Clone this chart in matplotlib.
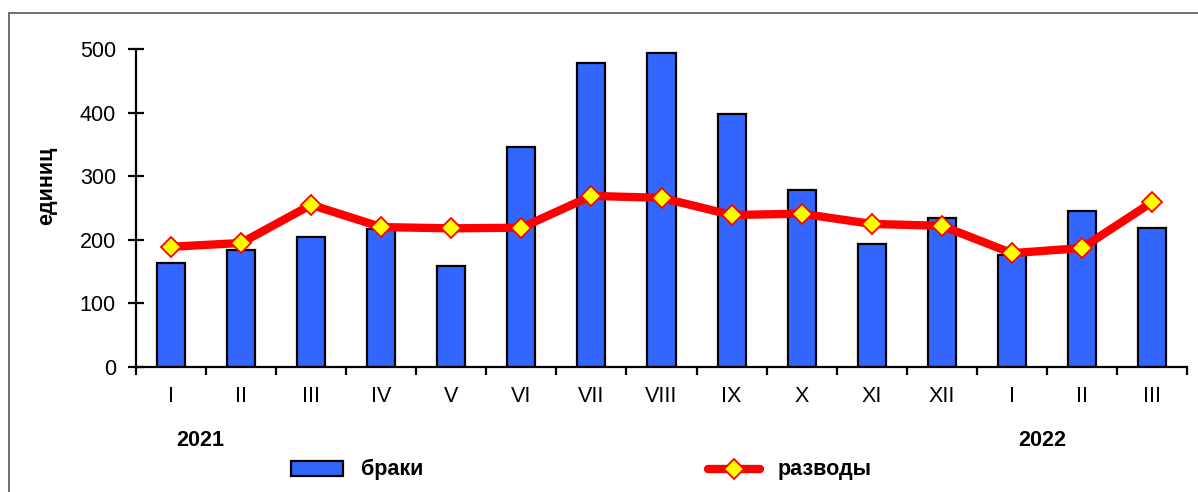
import matplotlib
matplotlib.use("Agg")
import matplotlib.pyplot as plt
from matplotlib.patches import Rectangle
from matplotlib.lines import Line2D
import numpy as np

plt.rcParams['font.family'] = ['Liberation Sans', 'DejaVu Sans']

months = ['I', 'II', 'III', 'IV', 'V', 'VI', 'VII', 'VIII', 'IX', 'X', 'XI', 'XII', 'I', 'II', 'III']
marriages = [163, 184, 204, 217, 159, 346, 478, 494, 398, 278, 193, 234, 176, 245, 218]
divorces = [189, 195, 255, 220, 218, 219, 269, 266, 239, 241, 225, 222, 179, 187, 259]
years = ['2021', '2022']

W, H = 1198, 492
FS = 15.5
fig = plt.figure(figsize=(W / 100, H / 100), dpi=100)
ax = fig.add_axes([136 / W, 1 - 367 / H, (1187 - 136) / W, (367 - 49) / H])

x = np.arange(len(months))
ax.bar(x, marriages, width=0.4, color='#3366FF', edgecolor='black', linewidth=1.6, zorder=2)
ax.plot(x, divorces, color='#FF0000', linewidth=6, marker='D', markersize=10,
        markerfacecolor='#FFFF00', markeredgecolor='#FF0000', markeredgewidth=1.3, zorder=3)

ax.set_xlim(-0.5, len(months) - 0.5)
ax.set_ylim(0, 500)
ax.set_yticks(range(0, 501, 100))
ax.set_xticks(x)
ax.set_xticklabels(months)
# ticks sit between the months
ax.set_xticks(np.arange(-0.5, len(months), 1), minor=True)
ax.tick_params(axis='x', which='major', length=0, pad=14, labelsize=FS)
ax.tick_params(axis='x', which='minor', direction='out', length=6, width=1.6)
ax.tick_params(axis='y', direction='inout', length=11, width=1.6, labelsize=FS, pad=9)
for s in ['top', 'right']:
    ax.spines[s].set_visible(False)
for s in ['left', 'bottom']:
    ax.spines[s].set_linewidth(1.6)

ax.set_ylabel('единиц', fontsize=FS, fontweight='bold', labelpad=16)
ax.yaxis.label.set_position((0, 0.57))

fig.text(200 / W, 1 - 440 / H, years[0], fontsize=FS, fontweight='bold', ha='center', va='center')
fig.text(1042 / W, 1 - 440 / H, years[1], fontsize=FS, fontweight='bold', ha='center', va='center')

# legend drawn by hand, it is spread across the bottom
fig.patches.append(Rectangle((291 / W, 1 - 476 / H), 52 / W, 15 / H, transform=fig.transFigure,
                             facecolor='#3366FF', edgecolor='black', linewidth=1.6))
fig.text(361 / W, 1 - 469 / H, 'браки', fontsize=FS, fontweight='bold', va='center')
fig.lines.append(Line2D([708 / W, 760 / W], [1 - 469 / H, 1 - 469 / H], transform=fig.transFigure,
                        color='#FF0000', linewidth=6, solid_capstyle='round'))
fig.lines.append(Line2D([734 / W], [1 - 469 / H], transform=fig.transFigure, marker='D', markersize=10,
                        markerfacecolor='#FFFF00', markeredgecolor='#FF0000', markeredgewidth=1.3))
fig.text(778 / W, 1 - 469 / H, 'разводы', fontsize=FS, fontweight='bold', va='center')

# outer frame
fig.patches.append(Rectangle((9 / W, -0.05), 1.1, 1 - 13 / H + 0.05, transform=fig.transFigure,
                             facecolor='none', edgecolor='#555555', linewidth=1.2))

fig.savefig('out.png', dpi=100)
